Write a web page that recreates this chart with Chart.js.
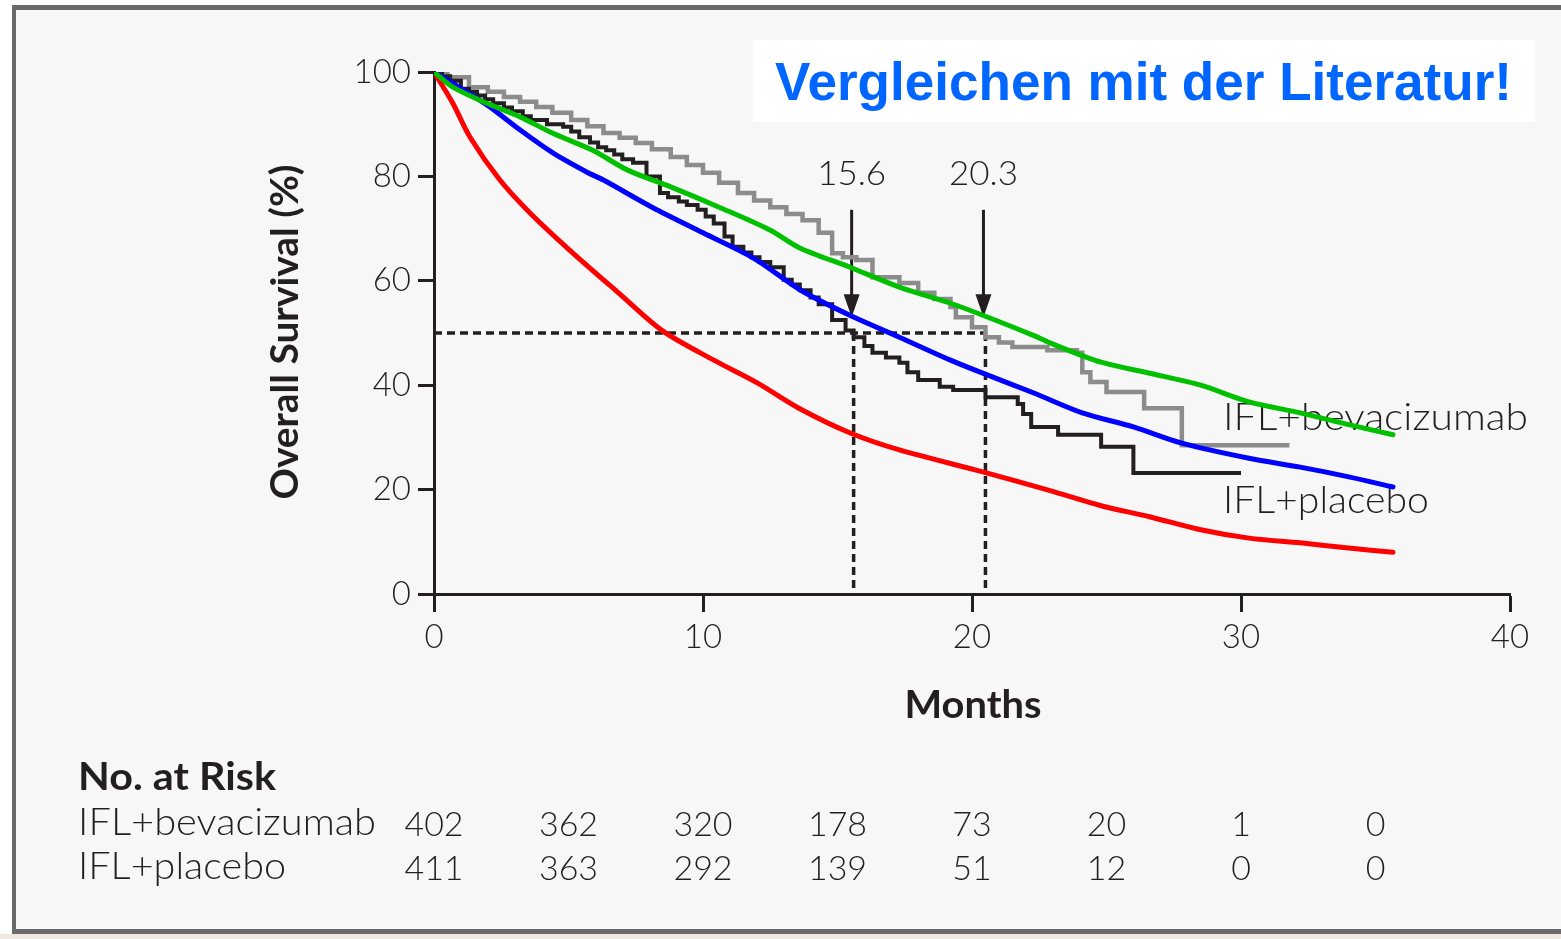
<!DOCTYPE html>
<html>
<head>
<meta charset="utf-8">
<title>Overall Survival</title>
<script src="https://cdn.jsdelivr.net/npm/chart.js@4.4.1/dist/chart.umd.min.js"></script>
<style>
  html, body { margin: 0; padding: 0; background: #fff; }
  canvas { display: block; }
</style>
</head>
<body>
<canvas id="kmChart" width="1561" height="939"></canvas>
<script>
const W = 1561, H = 939;
const INK = '#231f20';

// axis ticks
const xTicks = [0, 10, 20, 30, 40];
const yTicks = [0, 20, 40, 60, 80, 100];

// original Kaplan-Meier steps (months / survival %)
const bevKmMonths = [0, 0.5, 1.3, 2.0, 2.6, 3.2, 3.8, 4.4, 5.1, 5.7, 6.3, 6.9, 7.5, 8.1, 8.8, 9.4, 10.0, 10.6, 11.3, 11.9, 12.5, 13.1, 13.7, 14.3, 14.8, 15.2, 15.7, 16.3, 17.3, 18.0, 18.6, 19.2, 19.4, 20.0, 20.5, 21.0, 21.5, 22.8, 23.9, 24.1, 24.4, 25.0, 26.4, 27.8, 31.8];
const bevKmSurv   = [100, 99, 97.1, 96.2, 95.2, 94.3, 93.3, 92.2, 90.8, 89.6, 88.3, 87.4, 86.4, 85.2, 83.7, 82.2, 80.7, 78.8, 76.8, 75.4, 74.1, 72.8, 71.6, 69.2, 65.3, 64.5, 64.0, 60.7, 59.6, 57.7, 56.5, 55.0, 53.0, 51.1, 49.2, 48.2, 47.3, 46.7, 46.2, 42.5, 40.6, 38.7, 35.6, 28.5, 28.5];

const plaKmMonths = [0, 0.3, 0.6, 1.0, 1.3, 1.6, 1.9, 2.2, 2.6, 2.9, 3.3, 3.6, 4.2, 4.8, 5.1, 5.4, 5.8, 6.1, 6.4, 6.7, 7.0, 7.4, 7.9, 8.4, 8.7, 9.1, 9.4, 9.8, 10.1, 10.4, 10.8, 11.1, 11.5, 11.8, 12.1, 12.5, 13.0, 13.3, 13.6, 14.0, 14.3, 14.8, 15.3, 15.6, 16.0, 16.3, 16.8, 17.3, 17.6, 18.0, 18.8, 19.3, 20.5, 21.7, 21.9, 22.2, 23.2, 24.8, 26.0, 30.0];
const plaKmSurv   = [100, 99.2, 98.3, 96.8, 96.2, 95.5, 94.8, 94.0, 93.2, 92.5, 91.5, 90.8, 90.0, 89.5, 88.6, 87.5, 86.5, 85.6, 85.0, 84.2, 83.3, 82.6, 80.0, 76.8, 76.0, 75.2, 74.5, 73.6, 72.3, 71.0, 68.5, 66.5, 65.4, 64.5, 63.6, 62.6, 60.2, 59.3, 58.2, 56.8, 55.5, 52.5, 50.5, 49.2, 47.5, 46.2, 45.3, 44.3, 42.5, 41.0, 39.7, 39.1, 37.7, 36.4, 34.5, 32.0, 30.5, 28.2, 23.2, 23.2];

// drawn-in comparison curves
const greenMonths = [0, 0.7, 1.97, 3.2, 4.4, 5.9, 7.2, 8.8, 10.6, 12.5, 13.6, 15.46, 17.3, 19.2, 20.4, 22.3, 22.9, 24.8, 26.6, 28.5, 30.3, 32.2, 34.05, 35.65];
const greenSurv   = [100, 97.1, 94, 91.4, 88.3, 85, 81.2, 78, 74.1, 69.7, 66.3, 62.6, 58.8, 55.7, 53.4, 49.5, 48.1, 44.4, 42.3, 40.0, 36.8, 34.7, 32.4, 30.5];

const blueMonths = [0, 0.7, 1.97, 3.2, 4.42, 5.69, 6.3, 8.14, 10.0, 11.86, 13.7, 15.58, 17.3, 19.2, 20.4, 22.3, 24.1, 26.0, 27.8, 30.3, 32.2, 34.05, 35.65];
const blueSurv   = [100, 97.8, 93.7, 88.9, 84.5, 80.8, 79.3, 74.0, 69.2, 64.4, 58.0, 53.1, 49.2, 44.8, 42.3, 38.5, 34.7, 32.0, 28.9, 26.0, 24.3, 22.4, 20.5];

const redMonths = [0, 0.7, 1.34, 2.45, 3.57, 5.06, 6.9, 8.5, 10.4, 12.0, 13.6, 15.5, 17.3, 20.4, 22.9, 24.8, 26.6, 28.5, 30.3, 32.2, 34.0, 35.65];
const redSurv   = [100, 94, 87.5, 79.3, 73, 65.8, 57.5, 50.4, 44.8, 40.5, 35.5, 30.8, 27.6, 23.4, 19.8, 16.9, 14.8, 12.3, 10.7, 9.8, 8.8, 8.0];

// medians
const medianLabels = ['15.6', '20.3'];
const medianMonths = [15.6, 20.5];

// number at risk
const riskMonths = [0, 5, 10, 15, 20, 25, 30, 35];
const riskBev = [402, 362, 320, 178, 73, 20, 1, 0];
const riskPla = [411, 363, 292, 139, 51, 12, 0, 0];

const toPoints = (xs, ys) => xs.map((x, i) => ({ x: x, y: ys[i] }));

// draws text squeezed/stretched to the width it has in the figure
function fitText(ctx, text, x, y, weight, family, size, targetW, align) {
    ctx.font = weight + ' ' + size + 'px ' + family;
    const w = ctx.measureText(text).width;
    const s = targetW / w;
    ctx.save();
    ctx.translate(x, y);
    ctx.scale(s, 1);
    ctx.textAlign = align || 'left';
    ctx.fillText(text, 0, 0);
    ctx.restore();
}

const overlay = {
    id: 'overlay',
    beforeDraw(chart) {
        const ctx = chart.ctx;
        ctx.save();
        ctx.fillStyle = '#ffffff';
        ctx.fillRect(0, 0, W, H);
        ctx.fillStyle = '#f7f7f7';
        ctx.fillRect(14, 8, W - 14, 923);
        ctx.fillStyle = '#eee8e0';
        ctx.fillRect(0, 934, W, H - 934);
        // frame
        ctx.fillStyle = '#6a6a6a';
        ctx.fillRect(12, 5, W - 12, 5);
        ctx.fillRect(12, 5, 4, 929);
        ctx.fillRect(12, 929, W - 12, 5);
        ctx.restore();
    },
    beforeDatasetsDraw(chart) {
        const ctx = chart.ctx;
        const xs = chart.scales.x, ys = chart.scales.y;
        const y50 = ys.getPixelForValue(50);
        const y0 = ys.getPixelForValue(0);
        ctx.save();
        ctx.strokeStyle = INK;
        ctx.lineWidth = 3.5;
        ctx.setLineDash([8, 5]);
        const xLast = xs.getPixelForValue(medianMonths[1]);
        ctx.beginPath();
        ctx.moveTo(xs.getPixelForValue(0), y50);
        ctx.lineTo(xLast, y50);
        ctx.stroke();
        medianMonths.forEach(m => {
            const px = xs.getPixelForValue(m);
            ctx.beginPath();
            ctx.moveTo(px, y50);
            ctx.lineTo(px, y0);
            ctx.stroke();
        });
        ctx.setLineDash([]);

        // arrows + median labels
        ctx.lineWidth = 3;
        ctx.fillStyle = INK;
        const top = ys.getPixelForValue(73.6);
        const tip = ys.getPixelForValue(53);
        medianMonths.forEach((m, i) => {
            const px = xs.getPixelForValue(m) - 2;
            ctx.beginPath();
            ctx.moveTo(px, top);
            ctx.lineTo(px, tip - 18);
            ctx.stroke();
            ctx.beginPath();
            ctx.moveTo(px - 8, tip - 23);
            ctx.lineTo(px + 8, tip - 23);
            ctx.lineTo(px, tip);
            ctx.closePath();
            ctx.fill();
            fitText(ctx, medianLabels[i], px, ys.getPixelForValue(78.4), '300', 'Lato', 34, 69, 'center');
        });

        // curve labels
        fitText(ctx, 'IFL+bevacizumab', xs.getPixelForValue(29.33), ys.getPixelForValue(31.4), '300', 'Lato', 38, 305, 'left');
        fitText(ctx, 'IFL+placebo', xs.getPixelForValue(29.33), ys.getPixelForValue(15.5), '300', 'Lato', 38, 206, 'left');
        ctx.restore();
    },
    afterDraw(chart) {
        const ctx = chart.ctx;
        const xs = chart.scales.x;
        ctx.save();
        ctx.fillStyle = INK;

        // y axis title
        ctx.save();
        ctx.translate(298, 332);
        ctx.rotate(-Math.PI / 2);
        fitText(ctx, 'Overall Survival (%)', 0, 0, 'bold', 'Lato', 38, 335, 'center');
        ctx.restore();

        // x axis title
        fitText(ctx, 'Months', 973, 718, 'bold', 'Lato', 39, 137, 'center');

        // number at risk table
        fitText(ctx, 'No. at Risk', 78, 790, 'bold', 'Lato', 39, 198, 'left');
        fitText(ctx, 'IFL+bevacizumab', 78, 835, '300', 'Lato', 38, 298, 'left');
        fitText(ctx, 'IFL+placebo', 78, 879, '300', 'Lato', 38, 208, 'left');
        ctx.font = '300 34px Lato';
        ctx.textAlign = 'center';
        riskMonths.forEach((m, i) => {
            const px = xs.getPixelForValue(m);
            ctx.fillText(String(riskBev[i]), px, 836);
            ctx.fillText(String(riskPla[i]), px, 880);
        });

        // title box
        ctx.fillStyle = '#ffffff';
        ctx.fillRect(753, 40, 782, 82);
        ctx.fillStyle = '#0066ff';
        fitText(ctx, 'Vergleichen mit der Literatur!', 775, 100, 'bold', '"Liberation Sans", Arial', 53, 737, 'left');
        ctx.restore();
    }
};

const lineBase = { pointRadius: 0, fill: false };
const smooth = { borderWidth: 5, tension: 0.3, borderCapStyle: 'round', borderJoinStyle: 'round' };

new Chart(document.getElementById('kmChart'), {
    type: 'line',
    data: {
        datasets: [
            Object.assign({ label: 'IFL+bevacizumab KM', data: toPoints(bevKmMonths, bevKmSurv), borderColor: '#8c8c8c', borderWidth: 4.5, stepped: 'before', order: 6 }, lineBase),
            Object.assign({ label: 'IFL+placebo KM', data: toPoints(plaKmMonths, plaKmSurv), borderColor: INK, borderWidth: 4, stepped: 'before', order: 5 }, lineBase),
            Object.assign({ label: 'red', data: toPoints(redMonths, redSurv), borderColor: '#ff0000', order: 4 }, smooth, lineBase),
            Object.assign({ label: 'blue', data: toPoints(blueMonths, blueSurv), borderColor: '#0000ff', order: 3 }, smooth, lineBase),
            Object.assign({ label: 'green', data: toPoints(greenMonths, greenSurv), borderColor: '#00c000', order: 2 }, smooth, lineBase)
        ]
    },
    options: {
        responsive: false,
        animation: false,
        devicePixelRatio: 1,
        layout: { padding: { left: 0, right: 51, top: 72, bottom: 0 } },
        plugins: { legend: { display: false }, tooltip: { enabled: false } },
        scales: {
            x: {
                type: 'linear',
                min: 0,
                max: 40,
                afterBuildTicks: s => { s.ticks = xTicks.map(v => ({ value: v })); },
                afterFit: s => { s.height = 345; },
                grid: { display: true, drawOnChartArea: false, drawTicks: true, tickLength: 18, tickWidth: 3, tickColor: INK },
                border: { display: true, width: 3, color: INK },
                ticks: { font: { family: 'Lato', size: 33, weight: '300' }, color: INK, padding: 6, maxRotation: 0, autoSkip: false }
            },
            y: {
                type: 'linear',
                min: 0,
                max: 100,
                afterBuildTicks: s => { s.ticks = yTicks.map(v => ({ value: v })); },
                afterFit: s => { s.width = 434; },
                grid: { display: true, drawOnChartArea: false, drawTicks: true, tickLength: 16, tickWidth: 3, tickColor: INK },
                border: { display: true, width: 3, color: INK },
                ticks: { font: { family: 'Lato', size: 33, weight: '300' }, color: INK, padding: 7, autoSkip: false }
            }
        }
    },
    plugins: [overlay]
});
</script>
</body>
</html>
